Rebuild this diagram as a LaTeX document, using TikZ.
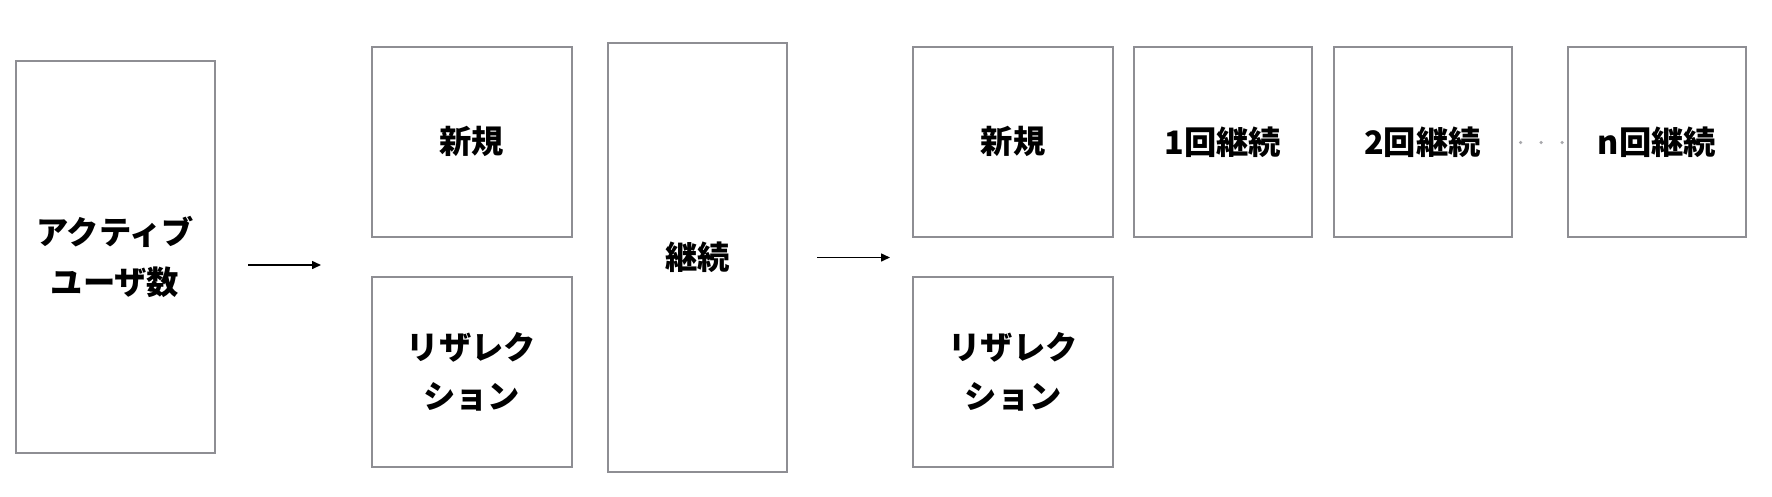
\documentclass[tikz,border=0pt]{standalone}
\usepackage{fontspec}
\setmainfont{Noto Sans CJK JP}
\usetikzlibrary{arrows.meta}
\definecolor{boxgray}{HTML}{8E8E93}
\definecolor{dotgray}{HTML}{A8A8AC}
\tikzset{
  box/.style={draw=boxgray, line width=2pt, rectangle, inner sep=0pt, outer sep=0pt,
    align=center, font=\fontsize{32.3}{49.5}\selectfont\bfseries},
  flow/.style={line width=1.5pt, -{Triangle[length=9pt,width=8pt]}},
  dotmark/.style={circle, fill=dotgray, inner sep=0pt, minimum size=3.5pt}
}
\begin{document}
\begin{tikzpicture}[x=1pt,y=-1pt]
\useasboundingbox (0,0) rectangle (1772,496);
\fill[white] (0,0) rectangle (1772,496);
\node[box, minimum width=199pt, minimum height=392pt] (act) at (115,257) {アクティブ\\ユーザ数};
\node[box, minimum width=200pt, minimum height=190pt] (new1) at (471.5,141.8) {新規};
\node[box, minimum width=200pt, minimum height=190pt] (res1) at (471.5,371.8) {リザレク\\ション};
\node[box, minimum width=179pt, minimum height=429pt] (cont) at (697.7,257.2) {継続};
\node[box, minimum width=200pt, minimum height=190pt] (new2) at (1013.2,141.8) {新規};
\node[box, minimum width=200pt, minimum height=190pt] (res2) at (1013.2,371.8) {リザレク\\ション};
\node[box, minimum width=178pt, minimum height=190pt] (r1) at (1222.7,141.8) {1回継続};
\node[box, minimum width=178pt, minimum height=190pt] (r2) at (1422.5,141.8) {2回継続};
\node[box, minimum width=178pt, minimum height=190pt] (rn) at (1656.9,141.8) {n回継続};
\coordinate (a1s) at (248,265);
\coordinate (a1e) at (321,265);
\coordinate (a2s) at (817,257.5);
\coordinate (a2e) at (890,257.5);
\draw[flow] (a1s) -- (a1e);
\draw[flow] (a2s) -- (a2e);
\node[dotmark] (d1) at (1520.5,142.5) {};
\node[dotmark] (d2) at (1541,142.5) {};
\node[dotmark] (d3) at (1562,142.5) {};
\end{tikzpicture}
\end{document}
